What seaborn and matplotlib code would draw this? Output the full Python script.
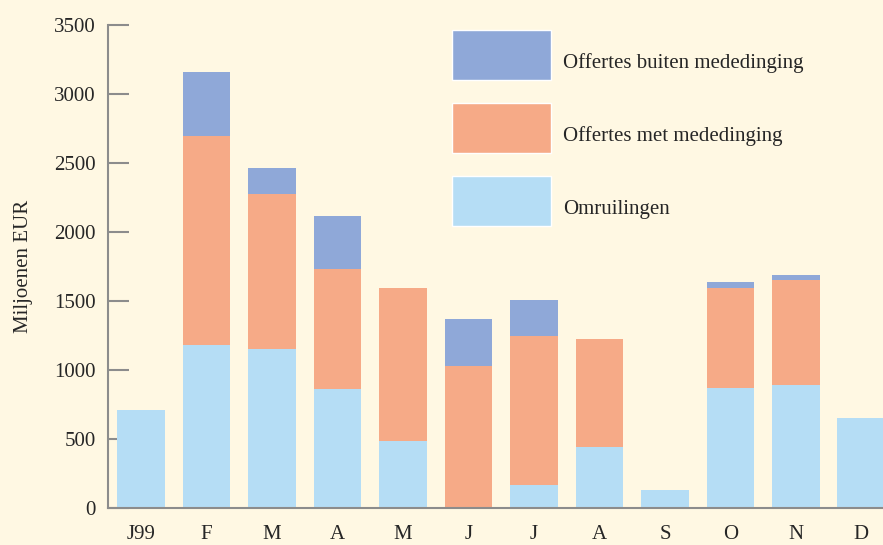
import matplotlib
matplotlib.use("Agg")
import matplotlib.pyplot as plt
import seaborn as sns
import pandas as pd
from matplotlib.patches import Patch

# Maandelijkse bedragen (miljoenen EUR)
maanden = ["J99", "F", "M", "A", "M ", "J", "J ", "A ", "S", "O", "N", "D"]
maand_labels = ["J99", "F", "M", "A", "M", "J", "J", "A", "S", "O", "N", "D"]
omruilingen = [710, 1180, 1150, 860, 485, 10, 165, 440, 130, 870, 890, 655]
met_mededinging = [0, 1515, 1125, 870, 1110, 1020, 1085, 785, 0, 725, 760, 0]
buiten_mededinging = [0, 465, 190, 385, 0, 340, 260, 0, 0, 45, 35, 0]

kleur_buiten = "#8fa8d8"
kleur_met = "#f6aa87"
kleur_omr = "#b5ddf5"
achtergrond = "#fff8e3"

df = pd.DataFrame({
    "maand": maanden,
    "omr": omruilingen,
    "met": met_mededinging,
    "buiten": buiten_mededinging,
})
df["tot_met"] = df["omr"] + df["met"]
df["tot_buiten"] = df["tot_met"] + df["buiten"]

sns.set_style("ticks")
plt.rcParams["font.family"] = ["Liberation Serif", "DejaVu Serif"]

fig = plt.figure(figsize=(8.83, 5.45), dpi=100, facecolor=achtergrond)
ax = fig.add_axes([108 / 883, 1 - 508 / 545, 1 - 108 / 883, (508 - 25) / 545])
ax.set_facecolor(achtergrond)

# gestapeld: telkens het cumulatieve totaal over het vorige heen tekenen
for kolom, kleur in [("tot_buiten", kleur_buiten), ("tot_met", kleur_met), ("omr", kleur_omr)]:
    sns.barplot(data=df, x="maand", y=kolom, order=maanden, color=kleur,
                width=0.73, saturation=1, linewidth=0, ax=ax)

ax.set_xlim(-0.504, 11.33)
ax.set_ylim(0, 3500)
ax.set_yticks(range(0, 3501, 500))
ax.set_xticks(range(len(maanden)))
ax.set_xticklabels(maand_labels)
ax.set_xlabel("")
ax.set_ylabel("Miljoenen EUR", fontsize=15, labelpad=15)

for side in ["top", "right"]:
    ax.spines[side].set_visible(False)
for side in ["left", "bottom"]:
    ax.spines[side].set_color("#8c8c8c")
    ax.spines[side].set_linewidth(1.5)

ax.tick_params(axis="y", direction="in", length=15, width=1.5, color="#8c8c8c",
               labelsize=15, pad=9)
ax.tick_params(axis="x", length=0, labelsize=15, pad=12)

handles = [Patch(facecolor=kleur_buiten, label="Offertes buiten mededinging"),
           Patch(facecolor=kleur_met, label="Offertes met mededinging"),
           Patch(facecolor=kleur_omr, label="Omruilingen")]
leg = fig.legend(handles=handles, loc="upper left", bbox_to_anchor=(452 / 883, 1 - 30 / 545),
                 frameon=False, fontsize=15, handlelength=4.76, handleheight=3.32,
                 labelspacing=1.1, handletextpad=0.55, borderpad=0, borderaxespad=0)
# tekst iets onder het midden van het kleurvak, zoals in het origineel
for tekst in leg.get_texts():
    tekst.set_va("center_baseline")

fig.savefig("out.png", dpi=100, facecolor=achtergrond)
